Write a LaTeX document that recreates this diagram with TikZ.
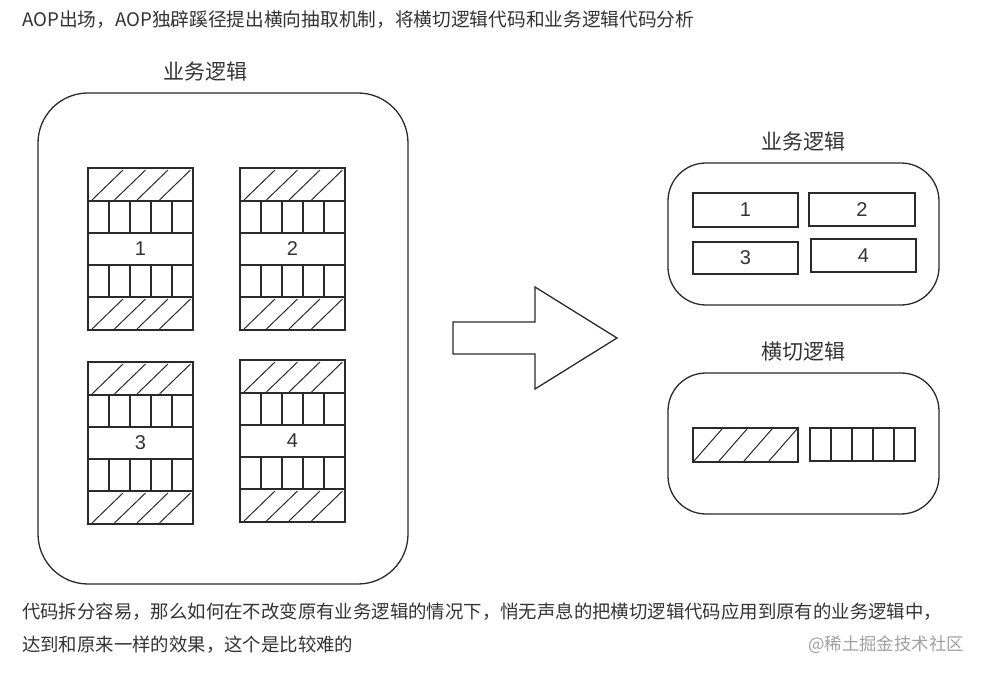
\documentclass[tikz,border=0pt]{standalone}
\usepackage{fontspec}
\setmainfont{Noto Sans CJK SC}
\newfontfamily\digitfont{Liberation Sans}
\definecolor{txt}{HTML}{333333}
\definecolor{ln}{HTML}{2A2A2A}
\definecolor{wm}{HTML}{A0A0A0}
\newcommand\AopBlock[4]{%
  \begin{scope}[shift={(#1,#2)}]
    \draw[frame] (0,0) rectangle (105,162);
    \foreach \yy in {33,65,97,129} \draw[frame] (0,\yy) -- (105,\yy);
    \foreach \i in {1,...,4} {
      \draw[frame] (21*\i,33) -- (21*\i,65);
      \draw[frame] (21*\i,97) -- (21*\i,129);
    }
    \foreach \i in {0,...,3} {
      \draw[hatch] (4+22.5*\i,32) -- (35+22.5*\i,2);
      \draw[hatch] (4+22.5*\i,161) -- (35+22.5*\i,131);
    }
    \node[num] (#4) at (52.5,81) {#3};
  \end{scope}}
\begin{document}
\begin{tikzpicture}[x=1pt,y=-1pt,
  frame/.style={draw=ln,line width=1.1pt},
  hatch/.style={draw=ln,line width=1pt},
  cont/.style={draw=ln,line width=1.3pt},
  num/.style={font=\digitfont\fontsize{20}{20}\selectfont,text=txt,inner sep=0pt},
  ttl/.style={font=\fontsize{21}{21}\selectfont,text=txt,inner sep=0pt},
  para/.style={font=\fontsize{18.4}{18.4}\selectfont,text=txt,inner sep=0pt,anchor=west}]
\useasboundingbox (0,0) rectangle (986,676);
% texts
\node[para,font=\fontsize{18.7}{18.7}\selectfont] (top) at (22,20) {AOP出场，AOP独辟蹊径提出横向抽取机制，将横切逻辑代码和业务逻辑代码分析};
\node[para] (bot1) at (22,612) {代码拆分容易，那么如何在不改变原有业务逻辑的情况下，悄无声息的把横切逻辑代码应用到原有的业务逻辑中，};
\node[para] (bot2) at (22,645) {达到和原来一样的效果，这个是比较难的};
\node[para,text=wm,font=\fontsize{17.4}{17.4}\selectfont] (wmk) at (808,645) {@稀土掘金技术社区};
% left container
\node[ttl] (lt) at (205,72) {业务逻辑};
\draw[cont,rounded corners=50] (38,93) rectangle (408,584);
\AopBlock{88}{168}{1}{b1}
\AopBlock{240}{168}{2}{b2}
\AopBlock{88}{362}{3}{b3}
\AopBlock{240}{360}{4}{b4}
% arrow
\draw[cont,line join=miter] (453,322) -- (535,322) -- (535,287) -- (617,338) -- (535,389) -- (535,354) -- (453,354) -- cycle;
% right top container
\node[ttl] (rt) at (803,142) {业务逻辑};
\draw[cont,rounded corners=38] (668,163) rectangle (939,305);
\draw[frame] (693,193) rectangle (798,227);
\node[num] (r1) at (745.5,210) {1};
\draw[frame] (809,193) rectangle (915,226);
\node[num] (r2) at (862,209.5) {2};
\draw[frame] (693,242) rectangle (798,274);
\node[num] (r3) at (745.5,258) {3};
\draw[frame] (811,239) rectangle (916,272);
\node[num] (r4) at (863.5,255.5) {4};
% right bottom container
\node[ttl] (rb) at (803,352) {横切逻辑};
\draw[cont,rounded corners=38] (668,373) rectangle (939,514);
\draw[frame] (693,428) rectangle (798,462);
\foreach \i in {0,...,3} \draw[hatch] (694+25*\i,461) -- (722+25*\i,429);
\draw[frame] (810,428) rectangle (915,461);
\foreach \i in {1,...,4} \draw[frame] (810+21*\i,428) -- (810+21*\i,461);
\end{tikzpicture}
\end{document}
